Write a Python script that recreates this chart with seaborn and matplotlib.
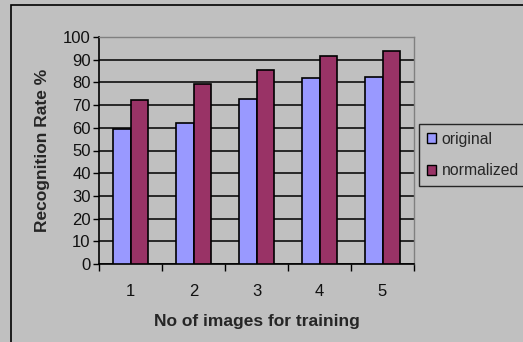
import matplotlib.pyplot as plt
import matplotlib.patches as mpatches
import seaborn as sns
import pandas as pd

# values
images = ["1", "2", "3", "4", "5"]
original = [59.6, 62.2, 72.9, 82.0, 82.5]
normalized = [72.3, 79.4, 85.4, 91.7, 93.9]
yticks = list(range(0, 101, 10))

df = pd.DataFrame({
    "images": images * 2,
    "rate": original + normalized,
    "series": ["original"] * 5 + ["normalized"] * 5,
})

sns.set_style("white")
plt.rcParams["font.family"] = ["Liberation Sans", "DejaVu Sans"]

bg = "#C0C0C0"
colors = {"original": "#9999FF", "normalized": "#993366"}

fig = plt.figure(figsize=(5.23, 3.42), dpi=100, facecolor=bg)
ax = fig.add_axes([99 / 523, 1 - 264 / 342, 315 / 523, 227 / 342])
ax.set_facecolor(bg)

sns.barplot(data=df, x="images", y="rate", hue="series", palette=colors,
            saturation=1, width=0.55, edgecolor="black", linewidth=1.2,
            ax=ax, legend=False, zorder=3)

ax.set_ylim(0, 100)
ax.set_xlim(-0.5, 4.5)
ax.set_yticks(yticks)
ax.grid(axis="y", color="black", linewidth=1.1, zorder=0)
ax.tick_params(axis="y", direction="out", length=4, width=1, color="black",
               labelsize=12, pad=2, left=True, labelcolor="#111111")
ax.tick_params(axis="x", length=0, labelsize=12, pad=14.5, labelcolor="#111111")
ax.set_xticks([-0.5, 0.5, 1.5, 2.5, 3.5, 4.5], minor=True)
ax.tick_params(axis="x", which="minor", direction="out", length=5, width=1,
               color="black", bottom=True)

for side in ["top", "right"]:
    ax.spines[side].set_color("#808080")
    ax.spines[side].set_linewidth(1)
for side in ["left", "bottom"]:
    ax.spines[side].set_color("black")
    ax.spines[side].set_linewidth(1.2)

ax.set_xlabel("No of images for training", fontsize=12.5, fontweight="bold",
              labelpad=11)
ax.set_ylabel("Recognition Rate %", fontsize=12.5, fontweight="bold",
              labelpad=9)

handles = [mpatches.Patch(facecolor=colors[s], edgecolor="black", label=s)
           for s in ["original", "normalized"]]
leg = fig.legend(handles=handles, loc="upper left",
                 bbox_to_anchor=(419 / 523, 1 - 124 / 342),
                 frameon=True, fancybox=False, fontsize=11.3,
                 handlelength=0.6, handleheight=0.6, handletextpad=0.35,
                 borderpad=0.5, labelspacing=1.05, borderaxespad=0)
leg.get_frame().set_edgecolor("black")
leg.get_frame().set_facecolor(bg)
leg.get_frame().set_linewidth(1)

# outer chart border
fig.patches.append(mpatches.Rectangle((11 / 523, -0.05), 1.0, 1 - 5 / 342 + 0.05,
                                      transform=fig.transFigure, fill=False,
                                      edgecolor="black", linewidth=1.2))

fig.savefig("out.png", dpi=100, facecolor=bg)
